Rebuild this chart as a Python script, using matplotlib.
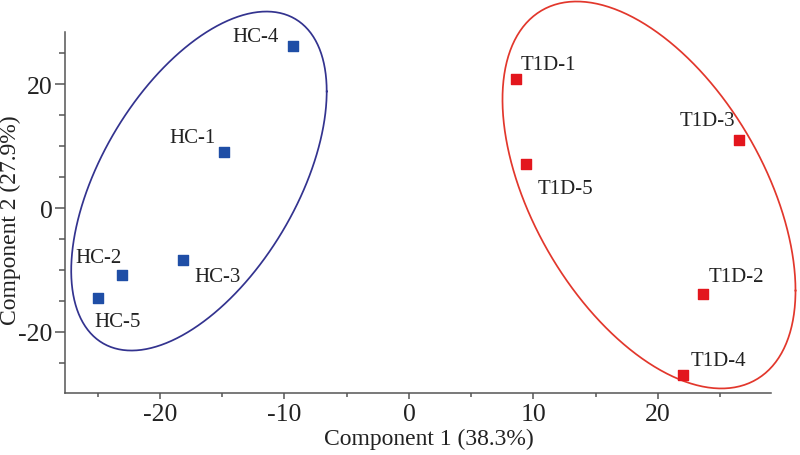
import numpy as np
import matplotlib
matplotlib.use('Agg')
import matplotlib.pyplot as plt
from matplotlib.ticker import MultipleLocator

plt.rcParams['font.family'] = ['Liberation Serif', 'DejaVu Serif']
plt.rcParams['axes.unicode_minus'] = False

# PCA scores
hc_names = ['HC-1', 'HC-2', 'HC-3', 'HC-4', 'HC-5']
hc_x = [-14.86, -23.05, -18.15, -9.32, -24.98]
hc_y = [9.03, -10.8, -8.39, 26.1, -14.5]

t1d_names = ['T1D-1', 'T1D-2', 'T1D-3', 'T1D-4', 'T1D-5']
t1d_x = [8.59, 23.6, 26.5, 22.0, 9.4]
t1d_y = [20.8, -13.9, 10.97, -26.9, 7.1]

# group ellipses: centre and shape matrix (x^T S^-1 x = 1)
hc_ell_center = [-16.87, 4.35]
hc_ell_shape = [[105.3, 148.3], [148.3, 747.5]]
t1d_ell_center = [19.28, 2.1]
t1d_ell_shape = [[138.5, -181.4], [-181.4, 974.1]]

# label offsets in pixels (dx, dy, ha)
hc_offsets = [(-8, 15, 'right'), (0, 17, 'right'), (11, -16, 'left'),
              (-14, 10, 'right'), (-4, -24, 'left')]
t1d_offsets = [(5, 15, 'left'), (6, 18, 'left'), (-4, 19, 'right'),
               (8, 14, 'left'), (12, -25, 'left')]

blue = '#1f4ea6'
red = '#e3161d'
blue_line = '#33338f'
red_line = '#e2372c'
axis_col = '#555555'
text_col = '#222222'


def ellipse(ax, center, shape, color):
    t = np.linspace(0, 2 * np.pi, 300)
    L = np.linalg.cholesky(np.array(shape))
    pts = np.array(center)[:, None] + L @ np.vstack([np.cos(t), np.sin(t)])
    ax.plot(pts[0], pts[1], color=color, lw=1.25, clip_on=False)


fig = plt.figure(figsize=(8, 4.56), dpi=100)
ax = fig.add_axes([65 / 800, 1 - 394 / 456, 706 / 800, 361 / 456])

ellipse(ax, hc_ell_center, hc_ell_shape, blue_line)
ellipse(ax, t1d_ell_center, t1d_ell_shape, red_line)

ax.scatter(hc_x, hc_y, marker='s', s=52, color=blue, zorder=3, clip_on=False)
ax.scatter(t1d_x, t1d_y, marker='s', s=52, color=red, zorder=3, clip_on=False)

for names, xs, ys, offs in [(hc_names, hc_x, hc_y, hc_offsets),
                            (t1d_names, t1d_x, t1d_y, t1d_offsets)]:
    for n, x, y, (dx, dy, ha) in zip(names, xs, ys, offs):
        ax.annotate(n, (x, y), xytext=(dx, dy), textcoords='offset pixels',
                    ha=ha, va='center', fontsize=15, color=text_col)

ax.set_xlim(-27.63, 29.08)
ax.set_ylim(-29.84, 28.39)

ax.xaxis.set_major_locator(MultipleLocator(10))
ax.xaxis.set_minor_locator(MultipleLocator(5))
ax.yaxis.set_major_locator(MultipleLocator(20))
ax.yaxis.set_minor_locator(MultipleLocator(5))

for s in ['top', 'right']:
    ax.spines[s].set_visible(False)
for s in ['left', 'bottom']:
    ax.spines[s].set_color(axis_col)
    ax.spines[s].set_linewidth(1.1)

ax.tick_params(axis='x', which='major', length=4, width=1.1, color=axis_col,
               labelsize=18.5, pad=3, labelcolor=text_col)
ax.tick_params(axis='x', which='minor', length=3, width=1.1, color=axis_col)
ax.tick_params(axis='y', which='major', length=7, width=1.1, color=axis_col,
               labelsize=18.5, pad=2, labelcolor=text_col)
ax.tick_params(axis='y', which='minor', length=4, width=1.1, color=axis_col)

ax.set_xlabel('Component 1 (38.3%)', fontsize=17, color=text_col, va='center')
ax.set_ylabel('Component 2 (27.9%)', fontsize=17, color=text_col)
ax.xaxis.set_label_coords(0.515, -0.127)
ax.yaxis.set_label_coords(-0.062, 0.482)

fig.savefig('out.png', dpi=100)
